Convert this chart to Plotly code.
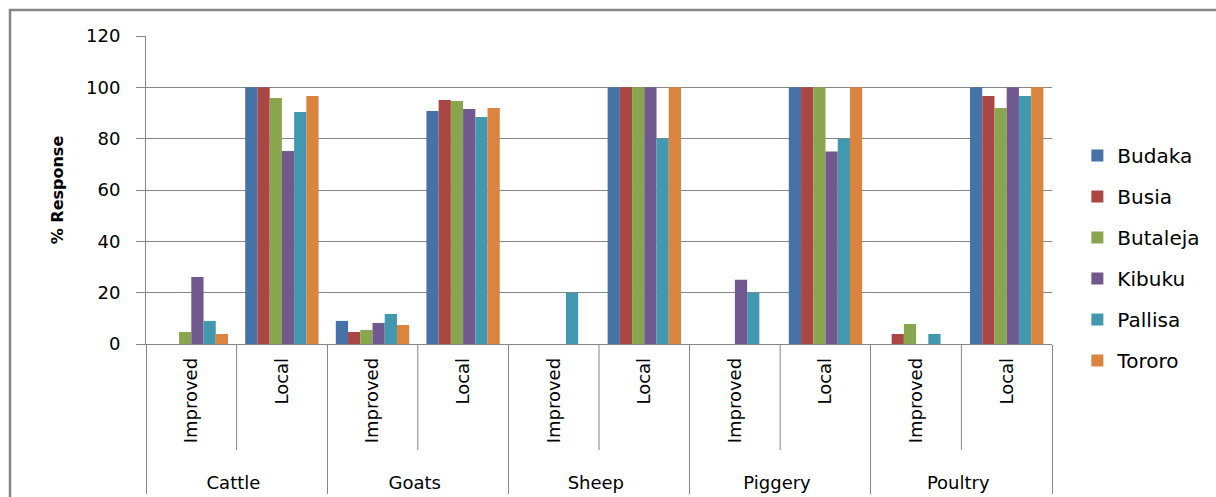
import plotly.graph_objects as go

livestock = ["Cattle", "Goats", "Sheep", "Piggery", "Poultry"]
breeds = ["Improved", "Local"]
districts = ["Budaka", "Busia", "Butaleja", "Kibuku", "Pallisa", "Tororo"]
colors = ["#4572A7", "#AA4643", "#89A54E", "#71588F", "#4198AF", "#DB843D"]

# values per district, order: Cattle-Imp, Cattle-Loc, Goats-Imp, Goats-Loc, Sheep-Imp, Sheep-Loc,
# Piggery-Imp, Piggery-Loc, Poultry-Imp, Poultry-Loc
budaka   = [0, 100, 9.0, 90.8, 0, 100, 0, 100, 0, 100]
busia    = [0, 100, 4.7, 95.1, 0, 100, 0, 100, 3.9, 96.6]
butaleja = [4.7, 95.8, 5.5, 94.7, 0, 100, 0, 100, 7.8, 91.9]
kibuku   = [26.1, 75.2, 8.2, 91.6, 0, 100, 25, 75, 0, 100]
pallisa  = [9.0, 90.4, 11.7, 88.4, 20, 80, 20, 80, 3.9, 96.6]
tororo   = [3.9, 96.6, 7.4, 91.9, 0, 100, 0, 100, 0, 100]
series = [budaka, busia, butaleja, kibuku, pallisa, tororo]

yticks = [0, 20, 40, 60, 80, 100, 120]

NB = "\u00a0"
outer = [a for a in livestock for _ in breeds]
# non-breaking spaces pad the rotated labels, lowering the outer labels as in the original
inner = [NB * 2 + b + NB for _ in livestock for b in breeds]

FONT = "DejaVu Sans"
W, H = 1216, 497
L, R, T, B = 146, 164, 36, 153

fig = go.Figure()
for name, vals, c in zip(districts, series, colors):
    fig.add_trace(go.Bar(x=[outer, inner], y=vals, name=name, marker=dict(color=c, line=dict(width=0)),
                         legendgroup=name))

gray = "#868686"
fig.update_layout(
    width=W, height=H,
    margin=dict(l=L, r=R, t=T, b=B, autoexpand=False),
    paper_bgcolor="white", plot_bgcolor="white",
    barmode="group", bargap=0.19, bargroupgap=0,
    font=dict(family=FONT, size=18, color="black"),
    legend=dict(x=1.028, y=0.279, xanchor="left", yanchor="middle", tracegroupgap=12,
                font=dict(family=FONT, size=20, color="black"), itemwidth=30),
    yaxis=dict(range=[0, 120], tickvals=yticks, showgrid=True, gridcolor=gray, gridwidth=1,
               showline=True, linecolor=gray, linewidth=1, ticks="outside", ticklen=9,
               tickcolor=gray, ticklabelstandoff=12, zeroline=False,
               tickfont=dict(family=FONT, size=18),
               title=dict(text="% Response", font=dict(family=FONT, size=16, weight="bold"), standoff=18)),
    xaxis=dict(type="multicategory", tickangle=-90, showline=True, linecolor=gray, linewidth=1,
               showdividers=True, dividercolor=gray, dividerwidth=1, ticks="",
               tickfont=dict(family=FONT, size=18)),
)

# inner dividers between Improved/Local within each livestock group (paper coords)
n = len(livestock) * len(breeds)
for k in range(len(livestock)):
    xp = (2 * k + 1) / n
    fig.add_shape(type="line", xref="paper", yref="paper", x0=xp, x1=xp, y0=0, y1=-106 / (H - T - B),
                  line=dict(color=gray, width=1))

# outer chart border (partially cropped)
ph = H - T - B
pw = W - L - R
fig.add_shape(type="rect", xref="paper", yref="paper",
              x0=(10 - L) / pw, x1=(W + 10 - L) / pw,
              y0=(H - B - (H + 10)) / ph, y1=(H - B - 10) / ph,
              line=dict(color=gray, width=2.5), fillcolor="rgba(0,0,0,0)", layer="below")

fig.write_html("out.html")
